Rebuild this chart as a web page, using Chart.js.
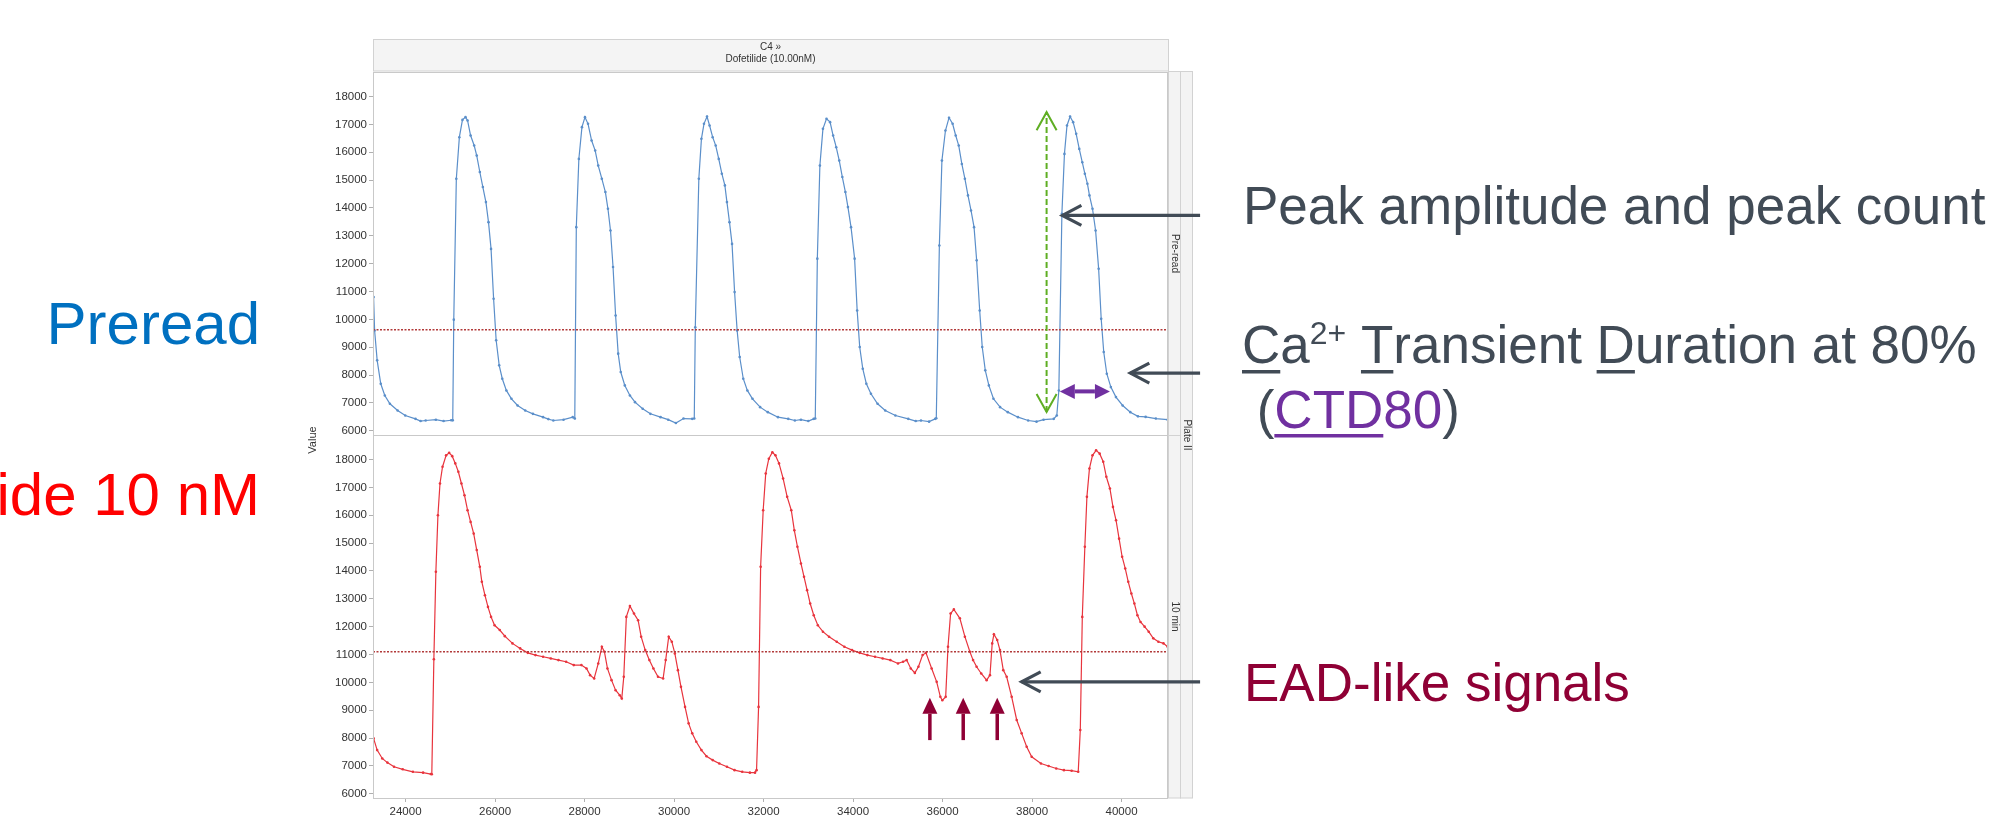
<!DOCTYPE html>
<html>
<head>
<meta charset="utf-8">
<script src="https://cdn.jsdelivr.net/npm/chart.js@4.4.0/dist/chart.umd.min.js"></script>
<style>
  html, body { margin: 0; padding: 0; background: #fff; }
  #wrap { position: relative; width: 2002px; height: 833px; overflow: hidden; background: #fff; }
  #wrap canvas { position: absolute; left: 0; top: 0; }
</style>
</head>
<body>
<div id="wrap">
  <canvas id="preChart" width="2002" height="833"></canvas>
  <canvas id="postChart" width="2002" height="833"></canvas>
</div>
<script>
// Pre-read trace (blue), time in ms
const preTime = [
  23286, 23309, 23366, 23446, 23537, 23651, 23823, 23994, 24222, 24336, 24450, 24678, 24850, 25021, 25055,
  25078, 25135, 25203, 25272, 25340, 25386, 25454, 25534, 25591, 25660, 25728, 25796, 25854, 25911, 25968,
  26025, 26093, 26162, 26253, 26367, 26504, 26675, 26846, 27074, 27190, 27303, 27531, 27736, 27782,
  27816, 27873, 27942, 28010, 28078, 28158, 28238, 28306, 28386, 28466, 28523, 28580, 28637, 28694, 28752,
  28809, 28900, 29014, 29128, 29299, 29471, 29699, 29870, 30041, 30212, 30406, 30452,
  30475, 30554, 30612, 30669, 30737, 30794, 30863, 30931, 30999, 31068, 31136, 31182, 31239, 31296, 31353,
  31410, 31467, 31547, 31638, 31753, 31924, 32095, 32323, 32551, 32700, 32836, 33000, 33122, 33156,
  33202, 33259, 33327, 33407, 33487, 33555, 33624, 33692, 33761, 33829, 33886, 33955, 34035, 34092, 34149,
  34217, 34297, 34400, 34548, 34719, 34947, 35233, 35400, 35518, 35700, 35837, 35860,
  35929, 35986, 36065, 36145, 36225, 36294, 36362, 36431, 36499, 36568, 36636, 36704, 36762, 36830, 36887,
  36955, 37035, 37138, 37286, 37458, 37686, 37914, 38100, 38257, 38485, 38553,
  38599, 38667, 38724, 38781, 38850, 38918, 38986, 39055, 39123, 39180, 39237, 39283, 39351, 39420, 39488,
  39545, 39602, 39670, 39761, 39875, 40025, 40196, 40367, 40538, 40766, 41030
];
const preValue = [
  10800, 9600, 8530, 7690, 7270, 6970, 6730, 6550, 6430, 6350, 6370, 6400, 6350, 6380, 6375,
  9990, 15050, 16540, 17160, 17260, 17140, 16600, 16240, 15880, 15290, 14750, 14210, 13490, 12530, 10740,
  9250, 8350, 7870, 7450, 7150, 6910, 6730, 6610, 6490, 6420, 6370, 6400, 6490, 6440,
  13310, 15760, 16900, 17260, 17020, 16420, 16060, 15520, 15050, 14570, 13970, 13190, 11880, 10140, 8770,
  8110, 7630, 7270, 7030, 6790, 6610, 6490, 6400, 6280, 6440, 6430, 6440,
  9720, 15050, 16480, 17020, 17280, 16960, 16540, 16240, 15760, 15230, 14810, 14210, 13490, 12710, 10980,
  9600, 8650, 7870, 7450, 7150, 6850, 6670, 6490, 6430, 6370, 6400, 6350, 6430, 6440,
  12180, 15520, 16840, 17200, 17080, 16600, 16180, 15700, 15110, 14570, 14030, 13310, 12180, 10320, 9010,
  8230, 7690, 7330, 6970, 6730, 6550, 6430, 6350, 6370, 6330, 6430, 6450,
  12650, 15700, 16780, 17240, 17020, 16600, 16240, 15580, 15050, 14450, 13910, 13310, 12120, 10320, 9010,
  8170, 7630, 7150, 6850, 6670, 6490, 6370, 6330, 6400, 6430, 6550,
  7450, 13790, 15940, 16960, 17280, 17080, 16660, 16120, 15640, 15230, 14870, 14450, 13970, 13190, 11820,
  10020, 8830, 8050, 7570, 7210, 6910, 6670, 6520, 6500, 6440, 6400
];

// 10 min trace (red), time in ms
const postTime = [
  23286, 23366, 23480, 23594, 23743, 23937, 24165, 24393, 24564, 24587,
  24633, 24678, 24724, 24770, 24827, 24907, 24975, 25043, 25112, 25180, 25249, 25317, 25386, 25454, 25523,
  25591, 25660, 25705, 25774, 25842, 25911, 25990, 26105, 26219, 26390, 26561, 26732, 26903, 27074, 27246,
  27417, 27588, 27759, 27930, 28044, 28124, 28215,
  28307, 28387, 28444, 28512, 28603, 28694, 28786, 28832,
  28877, 28934, 29014, 29105, 29197, 29265, 29356, 29448, 29539, 29642, 29756,
  29813, 29881, 29950, 30018, 30087, 30155, 30246, 30326, 30406, 30497, 30612, 30726, 30863, 31011, 31182,
  31353, 31524, 31695, 31810, 31844,
  31889, 31935, 31992, 32049, 32118, 32197, 32266, 32346, 32437, 32528, 32620, 32688, 32757, 32836, 32905,
  32973, 33042, 33122, 33213, 33327, 33464, 33635, 33806, 33977, 34149, 34320, 34491, 34662, 34833, 35004,
  35118, 35198, 35290, 35381,
  35461, 35554, 35630, 35757, 35869, 35951, 35995, 36070,
  36122, 36180, 36253, 36387, 36499, 36611, 36682, 36761, 36864, 36985, 37060,
  37110, 37148, 37222, 37283, 37357, 37433, 37545, 37657, 37768, 37880, 37992, 38199, 38370, 38541, 38713,
  38884, 39032,
  39078, 39123, 39180, 39226, 39283, 39351, 39431, 39511, 39591, 39660, 39740, 39808, 39877, 39945, 40013,
  40082, 40150, 40219, 40287, 40355, 40424, 40515, 40607, 40709, 40823, 40937, 41030
];
const postValue = [
  7990, 7570, 7270, 7120, 6970, 6880, 6790, 6760, 6710, 6700,
  10830, 13970, 16000, 17140, 17740, 18150, 18240, 18120, 17860, 17560, 17140, 16720, 16180, 15760, 15340,
  14750, 14150, 13610, 13130, 12710, 12350, 12050, 11880, 11660, 11400, 11220, 11060, 10980, 10920, 10860,
  10800, 10740, 10620, 10620, 10500, 10260, 10140,
  10680, 11280, 11100, 10500, 10080, 9720, 9540, 9420,
  10200, 12350, 12740, 12470, 12230, 11640, 11160, 10800, 10500, 10200, 10140,
  10800, 11640, 11460, 11040, 10440, 9840, 9120, 8530, 8170, 7870, 7570, 7350, 7210, 7090, 6970,
  6850, 6790, 6760, 6760, 6850,
  9120, 14150, 16180, 17500, 18030, 18260, 18150, 17860, 17320, 16660, 16180, 15460, 14870, 14270, 13790,
  13310, 12830, 12410, 12050, 11820, 11640, 11460, 11280, 11160, 11060, 10980, 10920, 10860, 10800, 10680,
  10740, 10800, 10500, 10340,
  10560, 10980, 11060, 10500, 10020, 9480, 9360, 9480,
  11280, 12470, 12620, 12300, 11640, 11100, 10800, 10560, 10320, 10080, 10260,
  11400, 11730, 11520, 11160, 10440, 10200, 9480, 8650, 8170, 7690, 7330, 7090, 7000, 6910, 6850,
  6830, 6790,
  8290, 12350, 14870, 16660, 17680, 18150, 18330, 18210, 17920, 17380, 16960, 16300, 15820, 15160, 14510,
  14090, 13610, 13190, 12830, 12410, 12170, 12000, 11820, 11580, 11460, 11400, 11280
];

// reference (threshold) lines
const preThreshold = 9630;
const postThreshold = 11100;

// tick labels
const xTickValues = [24000, 26000, 28000, 30000, 32000, 34000, 36000, 38000, 40000];
const yTickValues = [6000, 7000, 8000, 9000, 10000, 11000, 12000, 13000, 14000, 15000, 16000, 17000, 18000];

const X_MIN = 23273, X_MAX = 41038;
const Y_MIN = 5850, Y_MAX = 18880;
const PANEL_SPLIT = 435;   // boundary between the two panels
const PLOT_BOTTOM = 798;

const BLUE = '#5b8fca';
const RED = '#e8343d';
const THRESH = '#b23a3a';
const SLATE = '#414b56';
const PURPLE = '#7030a0';
const MAROON = '#8f0035';
const GREEN = '#5fae23';
const NARROW = "'Liberation Sans Narrow', 'Arial Narrow', 'Liberation Sans', sans-serif";
const SANS = "'Liberation Sans', Arial, sans-serif";

function toPoints(xs, ys) {
  return xs.map((x, i) => ({ x: x, y: ys[i] }));
}

// small drawing helpers for the annotation arrows
function openArrow(ctx, x1, y1, x2, y2, len, half, bothEnds) {
  ctx.beginPath();
  ctx.moveTo(x1, y1);
  ctx.lineTo(x2, y2);
  ctx.stroke();
  ctx.save();
  ctx.setLineDash([]);
  const heads = bothEnds ? [[x1, y1, x2, y2], [x2, y2, x1, y1]] : [[x1, y1, x2, y2]];
  heads.forEach(([ax, ay, bx, by]) => {
    const a = Math.atan2(by - ay, bx - ax);
    const c = Math.cos(a), s = Math.sin(a);
    ctx.beginPath();
    ctx.moveTo(bx - len * c + half * s, by - len * s - half * c);
    ctx.lineTo(bx, by);
    ctx.lineTo(bx - len * c - half * s, by - len * s + half * c);
    ctx.stroke();
  });
  ctx.restore();
}

function filledArrow(ctx, x1, y1, x2, y2, len, half, bothEnds) {
  const heads = bothEnds ? [[x1, y1, x2, y2], [x2, y2, x1, y1]] : [[x1, y1, x2, y2]];
  const a = Math.atan2(y2 - y1, x2 - x1);
  const c = Math.cos(a), s = Math.sin(a);
  ctx.beginPath();
  ctx.moveTo(x1 + (bothEnds ? len * c : 0), y1 + (bothEnds ? len * s : 0));
  ctx.lineTo(x2 - len * c, y2 - len * s);
  ctx.stroke();
  heads.forEach(([ax, ay, bx, by]) => {
    const b = Math.atan2(by - ay, bx - ax);
    const cb = Math.cos(b), sb = Math.sin(b);
    ctx.beginPath();
    ctx.moveTo(bx, by);
    ctx.lineTo(bx - len * cb + half * sb, by - len * sb - half * cb);
    ctx.lineTo(bx - len * cb - half * sb, by - len * sb + half * cb);
    ctx.closePath();
    ctx.fill();
  });
}

// draw a run of text pieces, optionally underlined
function drawRuns(ctx, x, base, runs) {
  runs.forEach(r => {
    ctx.font = r.font || ('53px ' + SANS);
    ctx.fillStyle = r.color;
    const dy = r.dy || 0;
    ctx.fillText(r.text, x, base + dy);
    const w = ctx.measureText(r.text).width;
    if (r.underline) {
      ctx.fillRect(x, base + r.underline, w, 3.5);
    }
    x += w;
  });
}

function vText(ctx, text, x, y, angle, font) {
  ctx.save();
  ctx.translate(x, y);
  ctx.rotate(angle);
  ctx.font = font;
  ctx.textAlign = 'center';
  ctx.textBaseline = 'middle';
  ctx.fillText(text, 0, 0);
  ctx.restore();
}

const framePlugin = {
  id: 'frame',
  afterDraw(chart) {
    const ctx = chart.ctx;
    const a = chart.chartArea;
    ctx.save();
    ctx.strokeStyle = '#c9c9c9';
    ctx.lineWidth = 1;
    ctx.strokeRect(a.left + 0.5, a.top + 0.5, a.right - a.left - 1, a.bottom - a.top);
    ctx.restore();
  }
};

// header, strips, axis title and slide texts around the pre-read panel
const preDecor = {
  id: 'preDecor',
  afterDraw(chart) {
    const ctx = chart.ctx;
    const xs = chart.scales.x, ys = chart.scales.y;
    const a = chart.chartArea;
    ctx.save();

    // header box
    ctx.fillStyle = '#f4f4f4';
    ctx.fillRect(a.left, 39.5, a.right - a.left, 31.5);
    ctx.strokeStyle = '#d2d2d2';
    ctx.lineWidth = 1;
    ctx.strokeRect(a.left + 0.5, 39.5, a.right - a.left, 31.5);
    ctx.fillStyle = '#333';
    ctx.textAlign = 'center';
    ctx.textBaseline = 'middle';
    ctx.font = '10px ' + NARROW;
    const cx = (a.left + a.right) / 2;
    ctx.fillText('C4 \u00bb', cx, 47.5);
    ctx.fillText('Dofetilide (10.00nM)', cx, 59.5);

    // right-hand strips
    ctx.fillStyle = '#f3f3f3';
    ctx.fillRect(a.right, 71.5, 24, PLOT_BOTTOM - 71.5);
    ctx.strokeStyle = '#d2d2d2';
    ctx.strokeRect(a.right + 0.5, 71.5, 12, PLOT_BOTTOM - 71.5);
    ctx.strokeRect(a.right + 12.5, 71.5, 12, PLOT_BOTTOM - 71.5);
    ctx.beginPath();
    ctx.moveTo(a.right, PANEL_SPLIT + 0.5);
    ctx.lineTo(a.right + 12.5, PANEL_SPLIT + 0.5);
    ctx.stroke();
    ctx.fillStyle = '#333';
    vText(ctx, 'Pre-read', a.right + 6.5, (a.top + PANEL_SPLIT) / 2, Math.PI / 2, '10px ' + NARROW);
    vText(ctx, '10 min', a.right + 6.5, (PANEL_SPLIT + PLOT_BOTTOM) / 2, Math.PI / 2, '10px ' + NARROW);
    vText(ctx, 'Plate II', a.right + 18.5, PANEL_SPLIT, Math.PI / 2, '10px ' + NARROW);

    // shared y-axis title
    vText(ctx, 'Value', 313, 440, -Math.PI / 2, '11px ' + SANS);

    // left slide labels
    ctx.textAlign = 'right';
    ctx.textBaseline = 'alphabetic';
    ctx.font = '60px ' + SANS;
    ctx.fillStyle = '#0070c0';
    ctx.fillText('Preread', 260, 344);

    // right slide labels
    ctx.textAlign = 'left';
    ctx.fillStyle = SLATE;
    ctx.font = '53px ' + SANS;
    ctx.fillText('Peak amplitude and peak count', 1243, 224);
    drawRuns(ctx, 1242, 363, [
      { text: 'C', color: SLATE, underline: 7 },
      { text: 'a', color: SLATE },
      { text: '2+', color: SLATE, font: '32px ' + SANS, dy: -19 },
      { text: ' ', color: SLATE },
      { text: 'T', color: SLATE, underline: 7 },
      { text: 'ransient ', color: SLATE },
      { text: 'D', color: SLATE, underline: 7 },
      { text: 'uration at 80%', color: SLATE }
    ]);
    drawRuns(ctx, 1242, 428, [
      { text: ' (', color: SLATE },
      { text: 'CTD', color: PURPLE, underline: 6 },
      { text: '80', color: PURPLE },
      { text: ')', color: SLATE }
    ]);

    // amplitude arrow (green, dashed, open heads)
    ctx.strokeStyle = GREEN;
    ctx.lineWidth = 2;
    ctx.setLineDash([6, 3]);
    const gx = xs.getPixelForValue(38325);
    openArrow(ctx, gx, ys.getPixelForValue(6674), gx, ys.getPixelForValue(17438), 18, 10, true);
    ctx.setLineDash([]);

    // CTD80 arrow (purple, filled heads)
    ctx.strokeStyle = PURPLE;
    ctx.fillStyle = PURPLE;
    ctx.lineWidth = 4;
    const py = ys.getPixelForValue(7415);
    filledArrow(ctx, xs.getPixelForValue(38621), py, xs.getPixelForValue(39740), py, 15, 7.5, true);

    // pointer arrows from the labels
    ctx.strokeStyle = SLATE;
    ctx.lineWidth = 3.2;
    const y1 = ys.getPixelForValue(13731);
    openArrow(ctx, xs.getPixelForValue(41755), y1, xs.getPixelForValue(38678), y1, 19, 10, false);
    const y2 = ys.getPixelForValue(8073);
    openArrow(ctx, xs.getPixelForValue(41755), y2, xs.getPixelForValue(40196), y2, 19, 10, false);

    ctx.restore();
  }
};

// slide texts and EAD markers around the 10 min panel
const postDecor = {
  id: 'postDecor',
  afterDraw(chart) {
    const ctx = chart.ctx;
    const xs = chart.scales.x, ys = chart.scales.y;
    ctx.save();
    ctx.textBaseline = 'alphabetic';
    ctx.textAlign = 'right';
    ctx.font = '60px ' + SANS;
    ctx.fillStyle = '#ff0000';
    ctx.fillText('Dofetilide 10 nM', 260, 515);

    ctx.textAlign = 'left';
    ctx.font = '53px ' + SANS;
    ctx.fillStyle = MAROON;
    ctx.fillText('EAD-like signals', 1244, 701);

    // EAD up arrows
    ctx.strokeStyle = MAROON;
    ctx.fillStyle = MAROON;
    ctx.lineWidth = 3.5;
    [35717, 36462, 37222].forEach(t => {
      const x = xs.getPixelForValue(t);
      filledArrow(ctx, x, ys.getPixelForValue(7928), x, ys.getPixelForValue(9446), 16, 7.5, false);
    });

    // pointer arrow
    ctx.strokeStyle = SLATE;
    ctx.lineWidth = 3.2;
    const y3 = ys.getPixelForValue(10020);
    openArrow(ctx, xs.getPixelForValue(41755), y3, xs.getPixelForValue(37768), y3, 19, 10, false);
    ctx.restore();
  }
};

function makeChart(canvasId, points, threshold, color, top, showX, decor) {
  const ctx = document.getElementById(canvasId).getContext('2d');
  return new Chart(ctx, {
    type: 'line',
    data: {
      datasets: [
        {
          data: toPoints([X_MIN, X_MAX], [threshold, threshold]),
          borderColor: THRESH,
          borderWidth: 1.4,
          borderDash: [2, 1.5],
          pointRadius: 0
        },
        {
          data: points,
          borderColor: color,
          borderWidth: 1.2,
          pointRadius: 1.3,
          pointBorderWidth: 0,
          pointBackgroundColor: color,
          tension: 0
        }
      ]
    },
    options: {
      responsive: false,
      devicePixelRatio: 1,
      animation: false,
      events: [],
      layout: { padding: { left: 0, top: top, right: 2002 - 1168, bottom: showX ? 0 : 833 - PANEL_SPLIT } },
      plugins: { legend: { display: false }, tooltip: { enabled: false } },
      scales: {
        x: {
          type: 'linear',
          min: X_MIN,
          max: X_MAX,
          display: showX,
          afterBuildTicks: (scale) => { scale.ticks = xTickValues.map(v => ({ value: v })); },
          afterFit: (scale) => { if (showX) scale.height = 833 - PLOT_BOTTOM; },
          grid: { drawOnChartArea: false, drawTicks: true, tickLength: 4, color: '#b0b0b0' },
          border: { display: false },
          ticks: {
            padding: 3,
            maxRotation: 0,
            autoSkip: false,
            color: '#333',
            font: { family: NARROW, size: 11.5 },
            callback: (v) => String(v)
          }
        },
        y: {
          type: 'linear',
          min: Y_MIN,
          max: Y_MAX,
          afterBuildTicks: (scale) => { scale.ticks = yTickValues.map(v => ({ value: v })); },
          afterFit: (scale) => { scale.width = 373; },
          grid: { drawOnChartArea: false, drawTicks: true, tickLength: 4, color: '#b0b0b0' },
          border: { display: false },
          ticks: {
            padding: 2,
            autoSkip: false,
            color: '#333',
            font: { family: NARROW, size: 11.5 },
            callback: (v) => String(v)
          }
        }
      }
    },
    plugins: [framePlugin, decor]
  });
}

makeChart('preChart', toPoints(preTime, preValue), preThreshold, BLUE, 72, false, preDecor);
makeChart('postChart', toPoints(postTime, postValue), postThreshold, RED, PANEL_SPLIT, true, postDecor);
</script>
</body>
</html>
